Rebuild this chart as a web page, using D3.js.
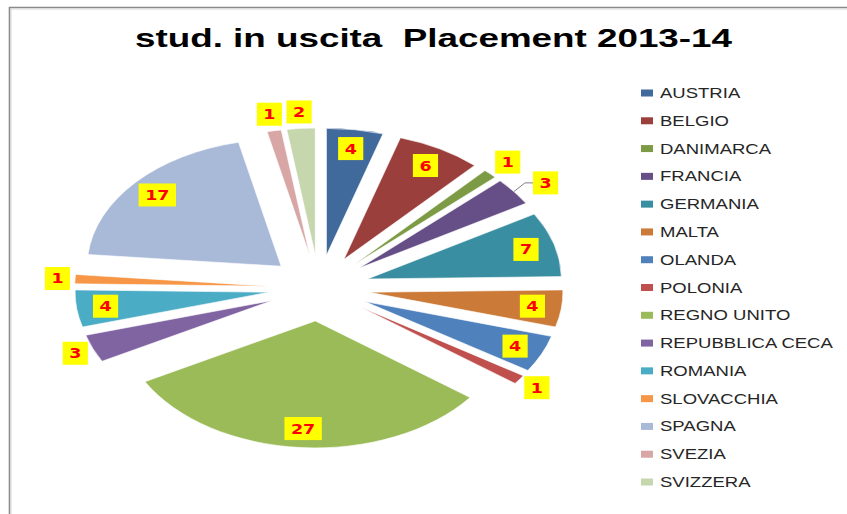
<!DOCTYPE html>
<html><head><meta charset="utf-8">
<script src="https://cdn.jsdelivr.net/npm/d3@7"></script>
<style>body{margin:0;background:#fff}</style>
</head><body><svg id="c" width="847" height="514"></svg>
<script>
const countries = ["AUSTRIA","BELGIO","DANIMARCA","FRANCIA","GERMANIA","MALTA","OLANDA","POLONIA","REGNO UNITO","REPUBBLICA CECA","ROMANIA","SLOVACCHIA","SPAGNA","SVEZIA","SVIZZERA"];
const values = [4,6,1,3,7,4,4,1,27,3,4,1,17,1,2];
const colors = ["#40699C","#9B3F3C","#7D9B45","#664E86","#3A8EA2","#CB7A37","#4F81BD","#C0504D","#9BBB59","#8064A2","#4BACC6","#F79646","#A9B9D8","#D8A6A5","#C6D7AE"];
const title = "stud. in uscita  Placement 2013-14";

const W = 847, H = 514;
const svg = d3.select("#c");
svg.append("rect").attr("width", W).attr("height", H).attr("fill", "#fff");
// frame
svg.append("path").attr("d", `M9.5,${H} V7.5 H${W}`).attr("fill", "none").attr("stroke", "#8a8a8a").attr("stroke-width", 1.6);
svg.append("path").attr("d", `M11,${H} V9 H${W}`).attr("fill", "none").attr("stroke", "#d6d6d6").attr("stroke-width", 1);

// title
svg.append("text").attr("x", 135).attr("y", 47)
  .attr("font-family", "Liberation Sans, Arial, sans-serif").attr("font-weight", "bold")
  .attr("font-size", 25).attr("fill", "#000").style("white-space", "pre")
  .attr("textLength", 597).attr("lengthAdjust", "spacingAndGlyphs")
  .text(title);

// pie geometry (reference is stretched horizontally)
const cx = 319, cy = 288, r = 127, sx = 1.527, explode = 33;
const pie = d3.pie().sort(null).value(d => d)(values);
const arc = d3.arc().innerRadius(0).outerRadius(r);

const g = svg.append("g").attr("transform", `translate(${cx},${cy}) scale(${sx},1)`);
pie.forEach((p, i) => {
  const mid = (p.startAngle + p.endAngle) / 2;
  g.append("path")
    .attr("d", arc(p))
    .attr("transform", `translate(${explode * Math.sin(mid)},${-explode * Math.cos(mid)})`)
    .attr("fill", colors[i])
    .attr("stroke", "#fff").attr("stroke-opacity", 0.6).attr("stroke-width", 1)
    .attr("vector-effect", "non-scaling-stroke");
});

function pt(mid, ang, rad) {
  return [cx + sx * (explode * Math.sin(mid) + rad * Math.sin(ang)),
          cy - (explode * Math.cos(mid) + rad * Math.cos(ang))];
}

// labels
const fs = 14, tsx = 1.25, boxH = 23, pad = 13, gap = 5;
const lbl = svg.append("g");
const placed = [];
const measure = svg.append("text").attr("font-family", "DejaVu Sans, Verdana, sans-serif")
  .attr("font-weight", "bold").attr("font-size", fs).attr("visibility", "hidden");

pie.forEach((p, i) => {
  const mid = (p.startAngle + p.endAngle) / 2;
  measure.text(String(values[i]));
  const tw = measure.node().getComputedTextLength() * tsx;
  const bw = tw + pad, hw = bw / 2, hh = boxH / 2;
  let x, y, leader = null;
  if (values[i] >= 4) {
    [x, y] = pt(mid, mid, 0.85 * r);
  } else {
    const P = pt(mid, mid, r);
    let dx = Math.sin(mid) * sx, dy = -Math.cos(mid);
    const n = Math.hypot(dx, dy); dx /= n; dy /= n;
    const t = Math.min((hw + gap) / Math.abs(dx || 1e-6), (hh + gap) / Math.abs(dy || 1e-6));
    x = P[0] + dx * t; y = P[1] + dy * t;
    // collision with previously placed labels
    for (const b of placed) {
      const m = 3;
      if (x - hw < b.x1 + m && x + hw > b.x0 - m && y - hh < b.y1 + m && y + hh > b.y0 - m) {
        if (dx >= 0) x = b.x1 + hw + hw; else x = b.x0 - hw - hw;
        const ex = dx >= 0 ? x - hw : x + hw;
        const elbow = dx >= 0 ? ex - 8 : ex + 8;
        leader = [P, [elbow, y], [ex, y]];
      }
    }
  }
  placed.push({x0: x - hw, x1: x + hw, y0: y - hh, y1: y + hh});
  if (leader) {
    lbl.append("path").attr("d", d3.line()(leader)).attr("fill", "none")
      .attr("stroke", "#7f7f7f").attr("stroke-width", 1);
  }
  lbl.append("rect").attr("x", x - hw).attr("y", y - hh).attr("width", bw).attr("height", boxH)
    .attr("fill", "#FFFF00");
  lbl.append("text").attr("transform", `translate(${x},${y + 5}) scale(${tsx},1)`)
    .attr("text-anchor", "middle")
    .attr("font-family", "DejaVu Sans, Verdana, sans-serif").attr("font-weight", "bold")
    .attr("font-size", fs).attr("fill", "#FF0000")
    .text(String(values[i]));
});
measure.remove();

// legend
const legY = d3.scalePoint().domain(countries).range([93, 482]);
const leg = svg.append("g");
const texts = [];
countries.forEach((c, i) => {
  const y = legY(c);
  leg.append("rect").attr("x", 641).attr("y", y - 3.5).attr("width", 12).attr("height", 7).attr("fill", colors[i]);
  const t = leg.append("text").attr("x", 0).attr("y", 0)
    .attr("font-family", "Liberation Sans, Arial, sans-serif").attr("font-size", 14)
    .attr("fill", "#262626").text(c);
  texts.push({t, y});
});
const maxW = d3.max(texts, d => d.t.node().getComputedTextLength());
const lsx = 173 / maxW;
texts.forEach(d => d.t.attr("transform", `translate(660,${d.y + 5}) scale(${lsx},1)`));
</script>
</body></html>
